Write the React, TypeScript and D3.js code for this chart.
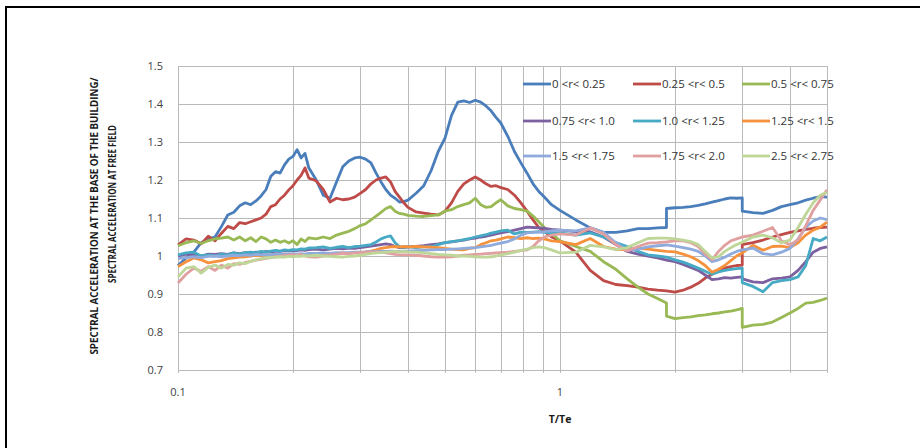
import React from 'react';
import * as d3 from 'd3';

// Period ratio T/Te (duplicates mark vertical jumps)
const periods = [
  0.1, 0.105, 0.11, 0.115, 0.12, 0.125, 0.13, 0.135, 0.14, 0.145, 0.15, 0.155, 0.16, 0.165, 0.17, 0.175, 0.18, 0.185, 0.19, 0.195, 0.2, 0.205, 0.21, 0.215, 0.22,
  0.23, 0.24, 0.25, 0.26, 0.27, 0.28, 0.29, 0.3, 0.31, 0.32, 0.33, 0.34, 0.35, 0.36, 0.37, 0.38, 0.39, 0.4,
  0.42, 0.44, 0.46, 0.48, 0.5, 0.52, 0.54, 0.56, 0.58, 0.6, 0.62, 0.64, 0.66, 0.68, 0.7,
  0.73, 0.76, 0.79, 0.82, 0.85, 0.88, 0.91, 0.95, 1.0,
  1.1, 1.2, 1.3, 1.4, 1.5, 1.6, 1.7, 1.8, 1.9, 1.9,
  2.0, 2.1, 2.2, 2.3, 2.4, 2.5, 2.6, 2.7, 2.8, 2.9, 3.0, 3.0,
  3.2, 3.4, 3.6, 3.8, 4.0, 4.2, 4.4, 4.6, 4.8, 5.0,
];

const r0to025 = [
  0.975, 0.995, 1.01, 1.035, 1.045, 1.05, 1.078, 1.108, 1.115, 1.132, 1.14, 1.135, 1.145, 1.158, 1.175, 1.21, 1.222, 1.218, 1.24, 1.255, 1.262, 1.28, 1.258, 1.27, 1.232,
  1.2, 1.16, 1.152, 1.195, 1.235, 1.25, 1.258, 1.26, 1.255, 1.245, 1.218, 1.195, 1.175, 1.16, 1.152, 1.142, 1.143, 1.147,
  1.165, 1.185, 1.225, 1.275, 1.31, 1.37, 1.405, 1.408, 1.404, 1.41, 1.405, 1.395, 1.382, 1.365, 1.35,
  1.315, 1.275, 1.245, 1.218, 1.19, 1.17, 1.155, 1.135, 1.12,
  1.095, 1.074, 1.062, 1.062, 1.066, 1.072, 1.072, 1.074, 1.075, 1.125,
  1.127, 1.128, 1.13, 1.133, 1.137, 1.142, 1.146, 1.15, 1.153, 1.152, 1.153, 1.118,
  1.114, 1.112, 1.12, 1.13, 1.135, 1.14, 1.147, 1.152, 1.156, 1.155,
];

const r025to05 = [
  1.029, 1.045, 1.042, 1.032, 1.052, 1.04, 1.06, 1.078, 1.072, 1.088, 1.085, 1.09, 1.095, 1.1, 1.11, 1.13, 1.135, 1.15, 1.16, 1.174, 1.185, 1.2, 1.212, 1.232, 1.205,
  1.198, 1.175, 1.142, 1.152, 1.148, 1.15, 1.155, 1.165, 1.175, 1.19, 1.2, 1.205, 1.208, 1.195, 1.17, 1.155, 1.14, 1.128,
  1.116, 1.113, 1.11, 1.108, 1.118, 1.14, 1.17, 1.19, 1.2, 1.208, 1.2, 1.19, 1.183, 1.185, 1.18,
  1.175, 1.16, 1.14, 1.118, 1.095, 1.075, 1.065, 1.05, 1.04,
  1.01, 0.962, 0.935, 0.925, 0.922, 0.918, 0.913, 0.91, 0.908, 0.908,
  0.905, 0.91, 0.918, 0.928, 0.942, 0.952, 0.962, 0.968, 0.972, 0.975, 0.976, 1.03,
  1.035, 1.042, 1.05, 1.056, 1.062, 1.066, 1.07, 1.073, 1.075, 1.076,
];

const r05to075 = [
  1.027, 1.035, 1.04, 1.033, 1.04, 1.045, 1.047, 1.05, 1.042, 1.05, 1.04, 1.048, 1.038, 1.05, 1.045, 1.036, 1.042, 1.036, 1.04, 1.034, 1.04, 1.03, 1.045, 1.038, 1.048,
  1.045, 1.05, 1.046, 1.055, 1.06, 1.065, 1.072, 1.08, 1.085, 1.095, 1.105, 1.115, 1.125, 1.13, 1.118, 1.112, 1.11, 1.107,
  1.105, 1.104, 1.106, 1.108, 1.118, 1.122, 1.13, 1.135, 1.14, 1.152, 1.135, 1.128, 1.13, 1.14, 1.148,
  1.132, 1.125, 1.122, 1.118, 1.105, 1.09, 1.075, 1.06, 1.04,
  1.025, 1.012, 0.985, 0.965, 0.94, 0.918, 0.9, 0.888, 0.876, 0.842,
  0.835, 0.838, 0.84, 0.843, 0.845, 0.848, 0.85, 0.853, 0.855, 0.858, 0.862, 0.812,
  0.818, 0.82, 0.826, 0.838, 0.85, 0.862, 0.876, 0.878, 0.883, 0.889,
];

const r075to10 = [
  1.0, 1.005, 1.003, 1.0, 1.005, 1.004, 1.006, 1.004, 1.008, 1.006, 1.009, 1.008, 1.01, 1.009, 1.012, 1.01, 1.013, 1.012, 1.014, 1.013, 1.015, 1.014, 1.016, 1.015, 1.017,
  1.018, 1.016, 1.018, 1.02, 1.019, 1.021, 1.02, 1.022, 1.024, 1.026, 1.028, 1.03, 1.032, 1.03, 1.025, 1.022, 1.022, 1.024,
  1.025, 1.027, 1.03, 1.032, 1.035, 1.037, 1.04, 1.042, 1.045, 1.047, 1.05, 1.052, 1.055, 1.058, 1.061,
  1.064, 1.068, 1.072, 1.076, 1.075, 1.074, 1.073, 1.07, 1.068,
  1.064, 1.064, 1.05, 1.03, 1.012, 1.005, 1.0, 0.995, 0.989, 0.989,
  0.985, 0.978, 0.97, 0.962, 0.95, 0.938, 0.94, 0.943, 0.942, 0.944, 0.945, 0.94,
  0.932, 0.93, 0.94, 0.942, 0.945, 0.962, 0.985, 1.01, 1.02, 1.024,
];

const r10to125 = [
  1.003, 1.008, 1.01, 1.0, 1.003, 1.0, 1.005, 1.003, 1.008, 1.005, 1.009, 1.01, 1.009, 1.012, 1.01, 1.013, 1.015, 1.013, 1.016, 1.015, 1.017, 1.016, 1.019, 1.018, 1.021,
  1.022, 1.024, 1.02, 1.023, 1.025, 1.022, 1.025, 1.026, 1.028, 1.03, 1.037, 1.045, 1.05, 1.053, 1.035, 1.024, 1.023, 1.024,
  1.022, 1.024, 1.025, 1.03, 1.035, 1.038, 1.04, 1.043, 1.046, 1.05, 1.053, 1.056, 1.06, 1.063, 1.066,
  1.068, 1.058, 1.063, 1.062, 1.063, 1.064, 1.062, 1.06, 1.061,
  1.055, 1.061, 1.05, 1.035, 1.025, 1.012, 1.003, 1.0, 0.997, 0.997,
  0.99, 0.984, 0.976, 0.968, 0.96, 0.952, 0.958, 0.962, 0.965, 0.967, 0.968, 0.93,
  0.92, 0.906, 0.93, 0.935, 0.938, 0.945, 0.975, 1.046, 1.04, 1.05,
];

const r125to15 = [
  0.972, 0.985, 0.995, 0.99, 0.982, 0.985, 0.988, 0.993, 0.995, 0.997, 0.998, 1.0, 1.002, 1.001, 1.003, 1.002, 1.004, 1.003, 1.005, 1.003, 1.004, 1.002, 1.004, 1.003, 1.004,
  1.005, 1.006, 1.005, 1.007, 1.008, 1.007, 1.009, 1.008, 1.01, 1.013, 1.016, 1.02, 1.022, 1.024, 1.025, 1.024, 1.025, 1.024,
  1.025, 1.024, 1.023, 1.022, 1.02, 1.018, 1.017, 1.016, 1.02, 1.022, 1.03, 1.035, 1.04, 1.042, 1.045,
  1.05, 1.048, 1.046, 1.048, 1.046, 1.047, 1.045, 1.04, 1.038,
  1.03, 1.046, 1.025, 1.018, 1.016, 1.02, 1.018, 1.015, 1.012, 1.012,
  1.011, 1.005, 0.998, 0.988, 0.975, 0.957, 0.965, 0.975, 0.988, 1.0, 1.008, 1.008,
  1.028, 1.015, 1.025, 1.026, 1.022, 1.035, 1.055, 1.068, 1.076, 1.089,
];

const r15to175 = [
  0.993, 0.996, 0.998, 0.996, 0.999, 1.0, 0.998, 1.0, 1.002, 1.001, 1.003, 1.002, 1.004, 1.003, 1.004, 1.003, 1.005, 1.004, 1.005, 1.004, 1.006, 1.005, 1.006, 1.005, 1.007,
  1.007, 1.008, 1.007, 1.009, 1.008, 1.009, 1.01, 1.01, 1.011, 1.012, 1.012, 1.013, 1.012, 1.013, 1.012, 1.012, 1.013, 1.013,
  1.014, 1.015, 1.016, 1.017, 1.017, 1.018, 1.019, 1.02, 1.021, 1.022, 1.024, 1.026, 1.028, 1.031, 1.034,
  1.038, 1.045, 1.055, 1.061, 1.062, 1.063, 1.064, 1.066, 1.068,
  1.066, 1.074, 1.062, 1.035, 1.015, 1.018, 1.024, 1.027, 1.029, 1.029,
  1.026, 1.022, 1.018, 1.012, 1.0, 0.985, 0.99, 0.997, 1.005, 1.012, 1.016, 1.016,
  1.021, 1.006, 1.003, 1.01, 1.02, 1.045, 1.076, 1.092, 1.1, 1.096,
];

const r175to20 = [
  0.929, 0.952, 0.968, 0.96, 0.972, 0.962, 0.976, 0.968, 0.98, 0.978, 0.983, 0.986, 0.989, 0.991, 0.994, 0.996, 0.998, 0.999, 1.001, 1.002, 1.003, 1.002, 1.004, 1.0, 0.998,
  0.997, 1.0, 1.003, 1.005, 1.007, 1.006, 1.008, 1.009, 1.01, 1.011, 1.011, 1.01, 1.008, 1.006, 1.004, 1.003, 1.003, 1.003,
  1.002, 1.0, 0.998, 0.997, 0.997, 0.998, 1.0, 1.002, 1.003, 1.004, 1.005, 1.006, 1.007, 1.008, 1.009,
  1.01, 1.012, 1.014, 1.016, 1.025, 1.04, 1.05, 1.055, 1.058,
  1.055, 1.074, 1.058, 1.03, 1.013, 1.025, 1.034, 1.035, 1.037, 1.037,
  1.04, 1.04, 1.035, 1.025, 1.005, 0.99, 1.012, 1.028, 1.04, 1.045, 1.05, 1.05,
  1.055, 1.065, 1.075, 1.04, 1.03, 1.042, 1.08, 1.12, 1.147, 1.174,
];

const r25to275 = [
  0.945, 0.968, 0.972, 0.955, 0.97, 0.976, 0.968, 0.978, 0.976, 0.982, 0.98, 0.986, 0.99, 0.993, 0.995, 0.996, 0.997, 0.998, 0.997, 0.999, 0.998, 1.0, 0.999, 1.001, 1.0,
  1.002, 1.0, 0.999, 0.998, 0.997, 0.999, 1.0, 1.002, 1.004, 1.006, 1.008, 1.009, 1.01, 1.011, 1.012, 1.011, 1.012, 1.011,
  1.01, 1.008, 1.006, 1.004, 1.003, 1.002, 1.0, 1.0, 0.999, 0.998, 0.997, 0.997, 0.998, 1.0, 1.003,
  1.006, 1.01, 1.015, 1.018, 1.022, 1.024, 1.022, 1.016, 1.008,
  1.01, 1.028, 1.024, 1.017, 1.022, 1.035, 1.046, 1.047, 1.047, 1.047,
  1.045, 1.042, 1.038, 1.03, 1.012, 0.995, 0.998, 1.012, 1.022, 1.03, 1.036, 1.036,
  1.05, 1.055, 1.048, 1.035, 1.042, 1.075, 1.11, 1.14, 1.16, 1.168,
];

const seriesValues = [r0to025, r025to05, r05to075, r075to10, r10to125, r125to15, r15to175, r175to20, r25to275];
const seriesNames = [
  '0 <r< 0.25', '0.25 <r< 0.5', '0.5 <r< 0.75',
  '0.75 <r< 1.0', '1.0 <r< 1.25', '1.25 <r< 1.5',
  '1.5 <r< 1.75', '1.75 <r< 2.0', '2.5 <r< 2.75',
];
const seriesColors = ['#4a7ebb', '#be4b48', '#98b954', '#7d60a0', '#46aac5', '#f6923d', '#8faadc', '#e0a0a0', '#bfd699'];

const yTicks = [0.7, 0.8, 0.9, 1.0, 1.1, 1.2, 1.3, 1.4, 1.5];
const xGrid = [0.2, 0.3, 0.4, 0.5, 0.6, 0.7, 0.8, 0.9, 1, 2, 3, 4, 5];
const xLabels = [0.1, 1];

const FONT = '"Open Sans", "Liberation Sans", sans-serif';

export default function App() {
  const x = d3.scaleLog().domain([0.1, 5]).range([178, 827]);
  const y = d3.scaleLinear().domain([0.7, 1.5]).range([370, 66]);
  const line = d3
    .line<[number, number]>()
    .x((d) => x(d[0]))
    .y((d) => y(d[1]));

  const gridColor = '#b9b9b9';
  const legendCols = [523, 633, 742];
  const legendRows = [84, 121, 156];

  return (
    <svg
      width={920}
      height={448}
      style={{ position: 'absolute', left: 0, top: 0, background: '#fff' }}
      fontFamily={FONT}
    >
      <rect x={0} y={0} width={920} height={448} fill="#fff" />
      {/* outer frame */}
      <line x1={5} y1={7} x2={920} y2={7} stroke="#000" strokeWidth={2} />
      <line x1={6} y1={6} x2={6} y2={448} stroke="#000" strokeWidth={2} />

      {/* horizontal grid */}
      {yTicks.map((t) => (
        <line key={'h' + t} x1={178} x2={827} y1={Math.round(y(t)) + 0.5} y2={Math.round(y(t)) + 0.5} stroke={gridColor} strokeWidth={1} />
      ))}
      {/* vertical grid */}
      {xGrid.map((t) => (
        <line key={'v' + t} x1={Math.round(x(t)) + 0.5} x2={Math.round(x(t)) + 0.5} y1={66} y2={373} stroke={gridColor} strokeWidth={1} />
      ))}
      <line x1={178.5} x2={178.5} y1={66} y2={373} stroke={gridColor} strokeWidth={1} />

      {/* y tick labels */}
      {yTicks.map((t) => (
        <text key={'yl' + t} x={163} y={y(t)} dy="0.35em" textAnchor="end" fontSize={11} fill="#404040">
          {d3.format('~g')(t)}
        </text>
      ))}
      {/* x tick labels */}
      {xLabels.map((t) => (
        <text key={'xl' + t} x={x(t)} y={396} textAnchor="middle" fontSize={11} fill="#404040">
          {String(t)}
        </text>
      ))}

      {/* axis titles */}
      <text x={560} y={423} textAnchor="middle" fontSize={10.5} fontWeight="bold" fill="#1a1a1a">
        T/Te
      </text>
      <text
        transform="translate(94,216) rotate(-90)"
        textAnchor="middle"
        dominantBaseline="central"
        fontSize={10.5}
        fontWeight="bold"
        fill="#1a1a1a"
        textLength={277}
        lengthAdjust="spacingAndGlyphs"
      >
        SPECTRAL ACCELERATION AT THE BASE OF THE BUILDING/
      </text>
      <text
        transform="translate(112,204) rotate(-90)"
        textAnchor="middle"
        dominantBaseline="central"
        fontSize={10.5}
        fontWeight="bold"
        fill="#1a1a1a"
        textLength={158}
        lengthAdjust="spacingAndGlyphs"
      >
        SPECTRAL ACCELERATION AT FREE FIELD
      </text>

      {/* series */}
      <defs>
        <clipPath id="plotclip">
          <rect x={176} y={60} width={654} height={312} />
        </clipPath>
      </defs>
      <g clipPath="url(#plotclip)">
        {seriesValues.map((vals, i) => (
          <path
            key={'s' + i}
            d={line(periods.map((p, j) => [p, vals[j]] as [number, number])) || ''}
            fill="none"
            stroke={seriesColors[i]}
            strokeWidth={2.8}
            strokeLinejoin="round"
          />
        ))}
      </g>

      {/* legend */}
      {seriesNames.map((name, i) => {
        const lx = legendCols[i % 3];
        const ly = legendRows[Math.floor(i / 3)];
        return (
          <g key={'lg' + i}>
            <line x1={lx} x2={lx + 28} y1={ly} y2={ly} stroke={seriesColors[i]} strokeWidth={2.8} />
            <text x={lx + 29} y={ly} dy="0.35em" fontSize={11.5} fill="#333">
              {name}
            </text>
          </g>
        );
      })}
    </svg>
  );
}
